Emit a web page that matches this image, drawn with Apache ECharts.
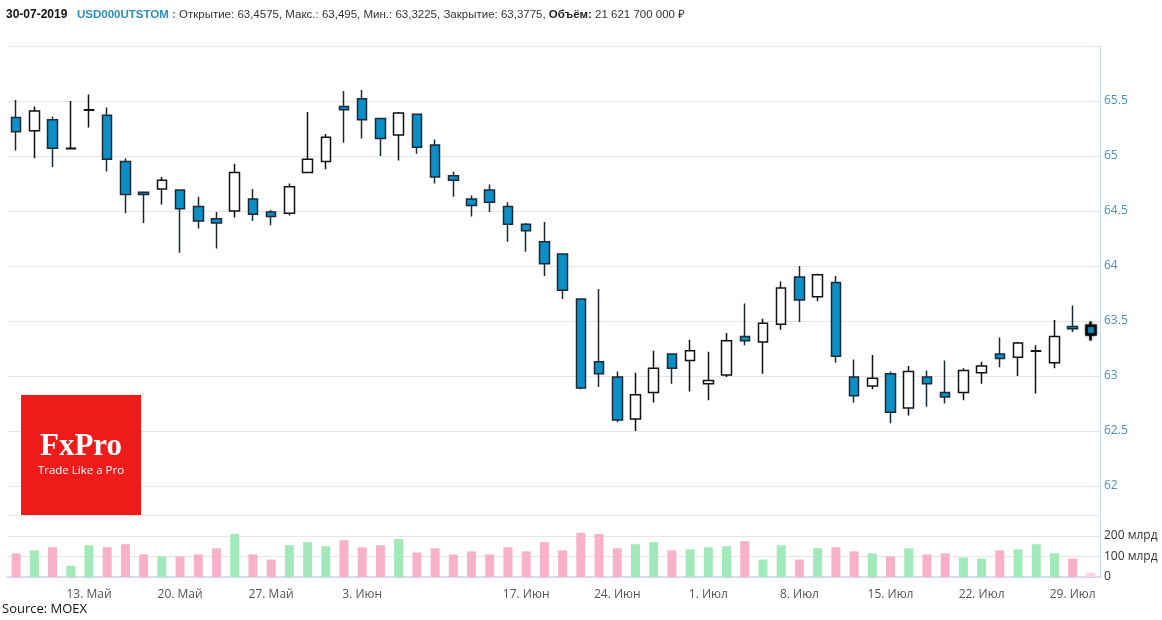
<!DOCTYPE html>
<html>
<head>
<meta charset="utf-8">
<script src="https://cdn.jsdelivr.net/npm/echarts@6/dist/echarts.min.js"></script>
<style>
  html, body { margin: 0; padding: 0; background: #fff; }
  #chart { width: 1162px; height: 620px; }
</style>
</head>
<body>
<div id="chart"></div>
<script>
// trading days, 30.04.2019 - 30.07.2019 (12.06 holiday)
var dates = ['30.04', '06.05', '07.05', '08.05',
    '13.05', '14.05', '15.05', '16.05', '17.05',
    '20.05', '21.05', '22.05', '23.05', '24.05',
    '27.05', '28.05', '29.05', '30.05', '31.05',
    '03.06', '04.06', '05.06', '06.06', '07.06',
    '10.06', '11.06', '13.06', '14.06',
    '17.06', '18.06', '19.06', '20.06', '21.06',
    '24.06', '25.06', '26.06', '27.06', '28.06',
    '01.07', '02.07', '03.07', '04.07', '05.07',
    '08.07', '09.07', '10.07', '11.07', '12.07',
    '15.07', '16.07', '17.07', '18.07', '19.07',
    '22.07', '23.07', '24.07', '25.07', '26.07',
    '29.07', '30.07'];

var opens = [65.35, 65.23, 65.33, 65.065, 65.415, 65.37, 64.95, 64.67, 64.70, 64.69,
    64.54, 64.43, 64.50, 64.61, 64.49, 64.48, 64.85, 64.95, 65.45, 65.52,
    65.34, 65.19, 65.38, 65.10, 64.82, 64.61, 64.69, 64.54, 64.38, 64.22,
    64.11, 63.70, 63.13, 62.99, 62.61, 62.85, 63.20, 63.14, 62.93, 63.01,
    63.36, 63.31, 63.47, 63.90, 63.72, 63.85, 62.99, 62.91, 63.02, 62.71,
    62.99, 62.85, 62.85, 63.03, 63.20, 63.17, 63.225, 63.12, 63.45, 63.4575];
var closes = [65.22, 65.41, 65.07, 65.07, 65.42, 64.97, 64.65, 64.65, 64.78, 64.52,
    64.41, 64.39, 64.85, 64.47, 64.45, 64.72, 64.97, 65.17, 65.42, 65.33,
    65.16, 65.39, 65.08, 64.81, 64.78, 64.55, 64.58, 64.38, 64.32, 64.02,
    63.78, 62.89, 63.02, 62.60, 62.83, 63.07, 63.07, 63.23, 62.96, 63.32,
    63.32, 63.48, 63.80, 63.69, 63.92, 63.18, 62.82, 62.98, 62.67, 63.04,
    62.93, 62.81, 63.05, 63.09, 63.16, 63.30, 63.23, 63.36, 63.43, 63.3775];
var lows = [65.05, 64.98, 64.90, 65.06, 65.26, 64.86, 64.48, 64.39, 64.56, 64.12,
    64.34, 64.16, 64.44, 64.41, 64.37, 64.46, 64.85, 64.88, 65.12, 65.16,
    65.00, 64.96, 65.02, 64.75, 64.63, 64.45, 64.49, 64.22, 64.13, 63.91,
    63.70, 62.88, 62.90, 62.58, 62.50, 62.76, 62.93, 62.86, 62.78, 62.99,
    63.28, 63.02, 63.42, 63.49, 63.68, 63.12, 62.76, 62.88, 62.57, 62.64,
    62.72, 62.75, 62.78, 62.93, 63.08, 63.00, 62.84, 63.07, 63.40, 63.3225];
var highs = [65.51, 65.45, 65.36, 65.50, 65.56, 65.44, 64.98, 64.67, 64.81, 64.69,
    64.63, 64.49, 64.93, 64.70, 64.51, 64.75, 65.40, 65.20, 65.59, 65.60,
    65.34, 65.40, 65.38, 65.15, 64.86, 64.64, 64.74, 64.58, 64.39, 64.40,
    64.11, 63.70, 63.79, 63.04, 63.03, 63.23, 63.20, 63.33, 63.22, 63.39,
    63.66, 63.52, 63.86, 64.00, 63.93, 63.91, 63.15, 63.19, 63.04, 63.09,
    63.05, 63.14, 63.07, 63.13, 63.35, 63.31, 63.28, 63.51, 63.64, 63.495];

// volume, млрд руб.
var volumes = [115, 130, 145, 55, 155, 145, 160, 110, 100, 100,
    110, 140, 210, 110, 85, 155, 170, 150, 180, 145,
    155, 185, 120, 140, 110, 125, 110, 145, 125, 170,
    130, 215, 210, 140, 160, 170, 130, 135, 145, 150,
    175, 85, 155, 85, 140, 145, 125, 115, 100, 140,
    110, 115, 95, 90, 130, 135, 160, 115, 90, 21.6217];
var lastVolumeRub = 21621700000;

var tickDates = ['13.05', '20.05', '27.05', '03.06', '17.06', '24.06', '01.07', '08.07', '15.07', '22.07', '29.07'];
var tickText = ['13. Май', '20. Май', '27. Май', '3. Июн', '17. Июн', '24. Июн', '1. Июл', '8. Июл', '15. Июл', '22. Июл', '29. Июл'];

var ticker = 'USD000UTSTOM';
var lastDate = '30-07-2019';

function ru(v) { return String(v).replace('.', ','); }
function spaced(n) { return String(n).replace(/\B(?=(\d{3})+(?!\d))/g, ' '); }

var last = dates.length - 1;
var candleData = [];
var volData = [];
for (var i = 0; i < dates.length; i++) {
    var item = { value: [opens[i], closes[i], lows[i], highs[i]] };
    if (i === last) {
        item.itemStyle = { borderWidth: 2.5, borderColor0: '#000', shadowColor: 'rgba(0,0,0,0.45)', shadowBlur: 3 };
    }
    candleData.push(item);
    var up = closes[i] >= opens[i];
    volData.push({
        value: volumes[i],
        itemStyle: { color: i === last ? '#fcd3e2' : (up ? '#a1e9b8' : '#f9b0c9') }
    });
}

var headerText = '{d|' + lastDate + '}   {s|' + ticker + ' :} {n|Открытие: ' + ru(opens[last]) +
    ', Макс.: ' + ru(highs[last]) + ', Мин.: ' + ru(lows[last]) +
    ', Закрытие: ' + ru(closes[last]) + ', }{b|Объём:}{n| ' + spaced(lastVolumeRub) + ' ₽}';

var chart = echarts.init(document.getElementById('chart'));

var option = {
    animation: false,
    backgroundColor: '#ffffff',
    title: {
        text: headerText,
        left: 1,
        top: 4,
        textStyle: {
            fontSize: 11.5,
            fontWeight: 'normal',
            rich: {
                d: { fontFamily: 'Liberation Sans', fontWeight: 'bold', fontSize: 12, color: '#111' },
                s: { fontFamily: 'Liberation Sans', fontWeight: 'bold', fontSize: 11.5, color: '#2a8fbd' },
                n: { fontFamily: 'Liberation Sans', fontWeight: 'normal', fontSize: 11.5, color: '#333' },
                b: { fontFamily: 'Liberation Sans', fontWeight: 'bold', fontSize: 11.5, color: '#222' }
            }
        }
    },
    grid: [
        { left: 7, right: 62, top: 46, height: 467.5 },
        { left: 7, right: 62, top: 515.5, height: 61.5 }
    ],
    xAxis: [
        {
            type: 'category',
            gridIndex: 0,
            data: dates,
            boundaryGap: true,
            show: false
        },
        {
            type: 'category',
            gridIndex: 1,
            data: dates,
            boundaryGap: true,
            offset: 5,
            axisLine: { lineStyle: { color: '#ccd6eb', width: 1.5 } },
            axisTick: {
                alignWithLabel: true,
                length: 5,
                lineStyle: { color: '#ccd6eb' },
                interval: function (idx, val) { return tickDates.indexOf(val) >= 0; }
            },
            axisLabel: {
                interval: function (idx, val) { return tickDates.indexOf(val) >= 0; },
                formatter: function (val) { return tickText[tickDates.indexOf(val)]; },
                color: '#555',
                fontFamily: 'Open Sans',
                fontSize: 12,
                margin: 7
            },
            splitLine: { show: false }
        }
    ],
    yAxis: [
        {
            type: 'value',
            gridIndex: 0,
            position: 'right',
            min: 61.75,
            max: 66,
            interval: 0.25,
            axisLine: { show: true, lineStyle: { color: '#ccd6eb' } },
            axisTick: { show: false },
            axisLabel: {
                color: '#4a90b8',
                fontFamily: 'Open Sans',
                fontSize: 12,
                margin: 4,
                formatter: function (v) {
                    var c = Math.round(v * 100);
                    return (c % 50 === 0 && v >= 62 && v < 66) ? String(v) : '';
                }
            },
            splitLine: { lineStyle: { color: ['transparent', '#e6e6e6'] } }
        },
        {
            type: 'value',
            gridIndex: 1,
            position: 'right',
            min: 0,
            max: 300,
            interval: 100,
            axisLine: { show: true, lineStyle: { color: '#ccd6eb' } },
            axisTick: { show: false },
            axisLabel: {
                color: '#333',
                fontFamily: 'Open Sans',
                fontSize: 12,
                margin: 4,
                showMaxLabel: false,
                formatter: function (v) { return v === 0 ? '0' : v + ' млрд'; }
            },
            splitLine: { lineStyle: { color: '#e6e6e6' } }
        }
    ],
    series: [
        {
            name: ticker,
            type: 'candlestick',
            xAxisIndex: 0,
            yAxisIndex: 0,
            barWidth: 10,
            data: candleData,
            itemStyle: {
                color: '#ffffff',
                color0: '#0b8fc6',
                borderColor: '#111111',
                borderColor0: '#1b2a36',
                borderColorDoji: '#111111',
                borderWidth: 1.5
            }
        },
        {
            name: 'Объём',
            type: 'bar',
            xAxisIndex: 1,
            yAxisIndex: 1,
            barWidth: 9,
            data: volData
        }
    ],
    graphic: [
        {
            type: 'group',
            left: 21,
            top: 395,
            z: 100,
            children: [
                { type: 'rect', z: 100, shape: { x: 0, y: 0, width: 120, height: 120 }, style: { fill: '#ef1a1a' } },
                { type: 'text', z: 101, x: 60, y: 52, style: { text: 'FxPro', fill: '#fff', font: 'bold 31px "Liberation Serif"', align: 'center', verticalAlign: 'middle' } },
                { type: 'text', z: 101, x: 60, y: 76, style: { text: 'Trade Like a Pro', fill: '#fff', font: '11.5px "Open Sans"', align: 'center', verticalAlign: 'middle' } }
            ]
        },
        {
            type: 'text',
            left: 2,
            top: 603,
            style: { text: 'Source: MOEX', fill: '#111', font: '13px "Open Sans"' }
        }
    ]
};

chart.setOption(option);
</script>
</body>
</html>
